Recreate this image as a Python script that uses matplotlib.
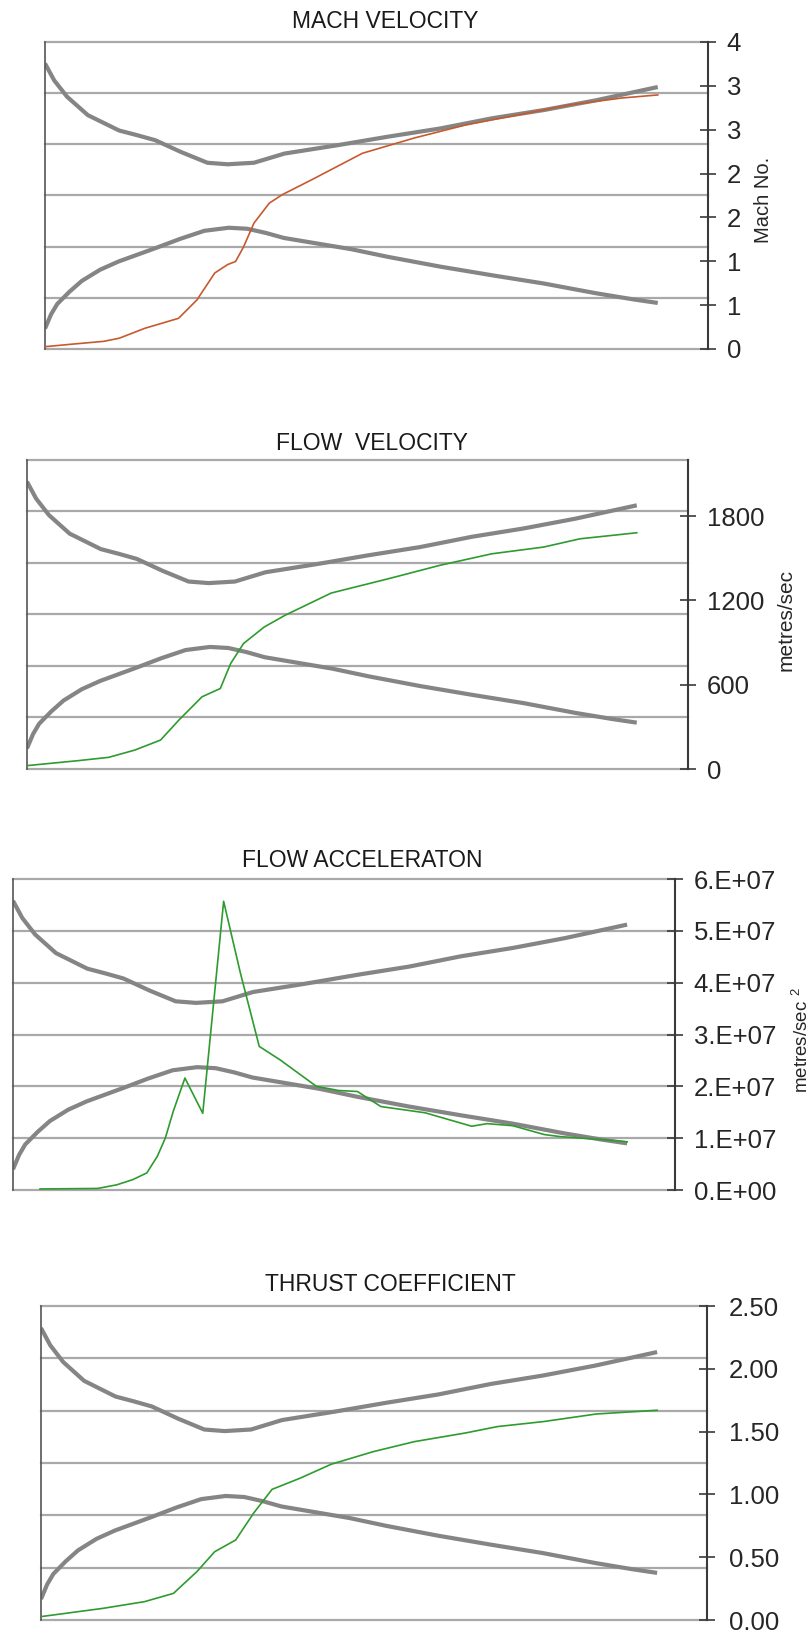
import matplotlib
matplotlib.use("Agg")
import matplotlib.pyplot as plt
import numpy as np

plt.rcParams['font.family'] = ['Liberation Sans', 'DejaVu Sans']
plt.rcParams['mathtext.fontset'] = 'custom'
plt.rcParams['mathtext.rm'] = 'Liberation Sans'
plt.rcParams['mathtext.it'] = 'Liberation Sans:italic'

# ---------------- data ----------------
# nozzle contour (grey curves), axial position in % of nozzle length, value in grid units (0-6)
contour_upper_x = [0, 1.5, 3.6, 7.0, 12.1, 15.0, 18.0, 22.2, 26.5, 29.8, 34.1, 39.1, 47.6, 56.0, 64.5, 73.0, 81.4, 89.9, 100]
contour_upper = [5.58, 5.25, 4.93, 4.57, 4.27, 4.18, 4.08, 3.85, 3.64, 3.61, 3.64, 3.82, 3.98, 4.15, 4.31, 4.51, 4.67, 4.86, 5.12]
contour_lower_x = [0, 1, 2, 4, 6, 9, 12, 15, 18, 22, 26, 30, 33, 36, 39, 45, 50, 56, 64.5, 73, 81.4, 89.9, 96, 100]
contour_lower = [0.40, 0.68, 0.88, 1.12, 1.33, 1.55, 1.71, 1.84, 1.97, 2.15, 2.31, 2.37, 2.35, 2.27, 2.17, 2.05,
                 1.95, 1.80, 1.61, 1.44, 1.28, 1.09, 0.97, 0.90]

# Mach number
mach_x = [0, 4, 9.6, 12.1, 16.3, 21.8, 24.8, 27.7, 29.8, 31.1, 32.4, 34.1, 36.6, 38.7, 43.4, 51.8, 60.3, 68.7,
          77.2, 85.6, 94.1, 100]
mach = [0.03, 0.06, 0.10, 0.14, 0.27, 0.40, 0.64, 0.99, 1.10, 1.14, 1.33, 1.64, 1.90, 2.01, 2.20, 2.55, 2.75,
        2.92, 3.05, 3.18, 3.27, 3.31]
mach_ticks = [0, 4 / 7, 8 / 7, 12 / 7, 16 / 7, 20 / 7, 24 / 7, 4]
mach_ticklabels = ["0", "1", "1", "2", "2", "3", "3", "4"]

# flow velocity (m/s)
vel_x = [0, 8.3, 13.4, 17.7, 21.9, 24.9, 28.7, 31.7, 33.4, 35.5, 38.9, 42.3, 49.9, 59.3, 67.7, 76.2, 84.7, 90.7, 100]
vel = [24, 59, 83, 135, 206, 348, 514, 573, 751, 893, 1011, 1094, 1253, 1355, 1450, 1532, 1580, 1639, 1682]
vel_ticks = [0, 600, 1200, 1800]
vel_ticklabels = ["0", "600", "1200", "1800"]

# flow acceleration (m/s^2)
acc_x = [4.4, 13.8, 16.9, 19.5, 21.8, 23.5, 24.8, 26.1, 28.0, 30.9, 34.3, 37.0, 40.1, 43.5, 49.4, 53.0, 56.1,
         59.9, 67.1, 74.7, 77.2, 81.4, 86.5, 89.1, 96.1, 100]
acc = [0.02e7, 0.03e7, 0.10e7, 0.20e7, 0.33e7, 0.65e7, 1.0e7, 1.52e7, 2.16e7, 1.48e7, 5.57e7, 4.2e7, 2.77e7,
       2.51e7, 2.00e7, 1.92e7, 1.90e7, 1.61e7, 1.49e7, 1.23e7, 1.28e7, 1.24e7, 1.07e7, 1.03e7, 0.97e7, 0.93e7]
acc_ticks = [0, 1e7, 2e7, 3e7, 4e7, 5e7, 6e7]
acc_ticklabels = ["0.E+00", "1.E+07", "2.E+07", "3.E+07", "4.E+07", "5.E+07", "6.E+07"]

# thrust coefficient
cf_x = [0, 10.1, 16.8, 21.5, 25.3, 28.2, 31.6, 34.5, 37.5, 42.1, 47.1, 53.9, 60.6, 69.0, 74.1, 81.6, 90.1, 100]
cf = [0.027, 0.093, 0.146, 0.212, 0.385, 0.544, 0.637, 0.85, 1.04, 1.13, 1.24, 1.34, 1.42, 1.49, 1.54, 1.58,
      1.64, 1.67]
cf_ticks = [0, 0.5, 1.0, 1.5, 2.0, 2.5]
cf_ticklabels = ["0.00", "0.50", "1.00", "1.50", "2.00", "2.50"]

# ---------------- drawing ----------------
W, H = 812, 1635
fig = plt.figure(figsize=(W / 100, H / 100), dpi=100)

GRID = '#a9a9a9'
CONTOUR = '#858585'
AXIS = '#3a3a3a'


def panel(box, xmax, title, title_xy, dx, dy, color, lw, ylim, ticks, ticklabels,
          ylabel, ylabel_xy, ylabel_size, pad=8):
    l, t, r, b = box
    ax = fig.add_axes([l / W, 1 - b / H, (r - l) / W, (b - t) / H])
    ax.set_xlim(0, xmax)
    ax.set_ylim(0, 6)
    for g in range(7):
        ax.axhline(g, color=GRID, lw=1.6, clip_on=False, zorder=1)
    ax.plot(contour_upper_x, contour_upper, color=CONTOUR, lw=3.0, zorder=2, solid_capstyle='butt')
    ax.plot(contour_lower_x, contour_lower, color=CONTOUR, lw=3.0, zorder=2, solid_capstyle='butt')
    for s in ['top', 'bottom', 'right']:
        ax.spines[s].set_visible(False)
    ax.spines['left'].set_color('#555555')
    ax.spines['left'].set_linewidth(1.2)
    ax.set_xticks([])
    ax.set_yticks([])

    ax2 = ax.twinx()
    ax2.set_xlim(0, xmax)
    ax2.set_ylim(*ylim)
    ax2.plot(dx, dy, color=color, lw=lw, zorder=3)
    ax2.set_yticks(ticks)
    ax2.set_yticklabels(ticklabels)
    ax2.tick_params(axis='y', direction='inout', length=11, width=1.2, pad=pad,
                    labelsize=18.5, color=AXIS, labelcolor='#262626')
    for s in ['top', 'bottom', 'left']:
        ax2.spines[s].set_visible(False)
    ax2.spines['right'].set_color(AXIS)
    ax2.spines['right'].set_linewidth(1.5)

    fig.text(title_xy[0] / W, 1 - title_xy[1] / H, title, ha='center', va='center',
             fontsize=16.5, color='#1a1a1a')
    if ylabel:
        fig.text(ylabel_xy[0] / W, 1 - ylabel_xy[1] / H, ylabel, ha='center', va='center',
                 rotation=90, fontsize=ylabel_size, color='#262626')


panel((45, 42, 708, 349), 108.2, "MACH VELOCITY", (385, 22), mach_x, mach, '#c65a2e', 1.2,
      (0, 4), mach_ticks, mach_ticklabels, "Mach No.", (764, 200), 14.5)
panel((27, 460, 688, 769), 108.4, "FLOW  VELOCITY", (372, 443), vel_x, vel, '#2e9b2e', 1.2,
      (0, 2200), vel_ticks, vel_ticklabels, "metres/sec", (786, 620), 15)
panel((13, 879, 675, 1190), 107.8, "FLOW ACCELERATON", (362, 860), acc_x, acc, '#2e9b2e', 1.2,
      (0, 6e7), acc_ticks, acc_ticklabels, r"metres/sec $^{2}$", (802, 1040), 13.5)
panel((41, 1306, 707, 1620), 108.1, "THRUST COEFFICIENT", (390, 1284), cf_x, cf, '#2e9b2e', 1.2,
      (0, 2.5), cf_ticks, cf_ticklabels, None, None, None, pad=10)

fig.savefig("out.png", dpi=100)
